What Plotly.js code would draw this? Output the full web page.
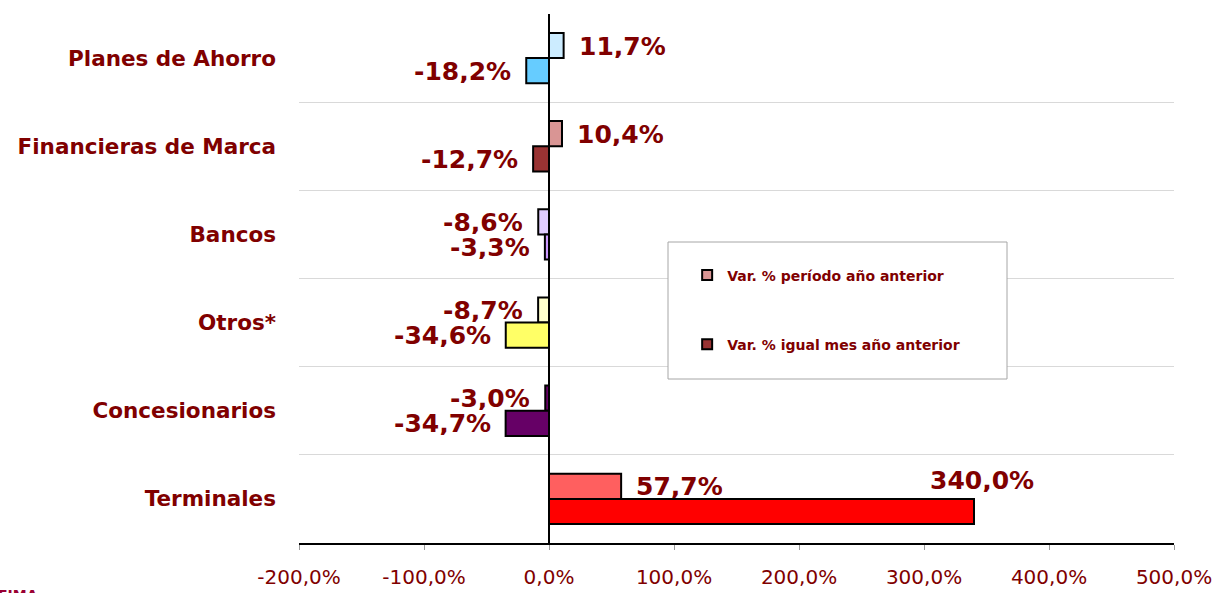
<!DOCTYPE html>
<html>
<head>
<meta charset="utf-8">
<script src="https://cdn.plot.ly/plotly-3.0.1.min.js"></script>
<style>
html,body{margin:0;padding:0;background:#fff;}
#chart{width:1213px;height:593px;}
</style>
</head>
<body>
<div id="chart"></div>
<script>
// ---- data ----
const categories = ['Planes de Ahorro', 'Financieras de Marca', 'Bancos', 'Otros*', 'Concesionarios', 'Terminales'];
const varPeriodo = [11.7, 10.4, -8.6, -8.7, -3.0, 57.7];
const varMes = [-18.2, -12.7, -3.3, -34.6, -34.7, 340.0];
const seriesNames = ['Var. % período año anterior', 'Var. % igual mes año anterior'];
const xTicks = [-200, -100, 0, 100, 200, 300, 400, 500];

// ---- styles ----
const coloresPeriodo = ['#CCECFF', '#D99594', '#E0CCFF', '#FFFFCC', '#660066', '#FF5F5F'];
const coloresMes = ['#66CCFF', '#993333', '#CC99FF', '#FFFF66', '#660066', '#FF0000'];
const legendColors = ['#D99594', '#993333'];
const dark = '#800000';
const FONT = 'DejaVu Sans, Verdana, sans-serif';

function fmt(v) { return v.toFixed(1).replace('.', ',') + '%'; }

const traces = [
  {type: 'bar', orientation: 'h', name: seriesNames[0], x: varPeriodo, y: categories,
   marker: {color: coloresPeriodo, line: {color: '#000', width: 2}}, showlegend: false, hoverinfo: 'x+y'},
  {type: 'bar', orientation: 'h', name: seriesNames[1], x: varMes, y: categories,
   marker: {color: coloresMes, line: {color: '#000', width: 2}}, showlegend: false, hoverinfo: 'x+y'},
  {type: 'scatter', mode: 'markers', name: seriesNames[0], x: [null], y: [null], legendgroup: 'a',
   marker: {symbol: 'square', size: 10, color: legendColors[0], line: {color: '#000', width: 2}}},
  {type: 'scatter', mode: 'markers', name: seriesNames[1], x: [null], y: [null], legendgroup: 'b',
   marker: {symbol: 'square', size: 10, color: legendColors[1], line: {color: '#000', width: 2}}}
];

const annotations = [];
[varPeriodo, varMes].forEach((arr, s) => {
  const barShift = s === 0 ? 12.5 : -12.5;
  arr.forEach((v, i) => {
    const a = {x: v, y: categories[i], xref: 'x', yref: 'y', text: fmt(v), showarrow: false,
      height: 24, valign: 'middle',
      font: {family: FONT, size: 25, color: dark, weight: 'bold'}, yshift: barShift};
    if (Math.abs(v) > 250) {
      a.xanchor = 'center'; a.xshift = 8; a.yshift = barShift + 31;
    } else if (v >= 0) {
      a.xanchor = 'left'; a.xshift = 13;
    } else {
      a.xanchor = 'right'; a.xshift = -13;
    }
    annotations.push(a);
  });
});
annotations.push({xref: 'paper', yref: 'paper', x: -299 / 875, y: -0.079, xanchor: 'left', yanchor: 'top',
  xshift: -4, text: 'FIMA', showarrow: false, font: {family: FONT, size: 14, color: '#990033', weight: 'bold'}});

const layout = {
  width: 1213, height: 593,
  margin: {l: 299, r: 39, t: 14, b: 50},
  paper_bgcolor: '#fff', plot_bgcolor: '#fff',
  barmode: 'group', bargap: 0.43, bargroupgap: 0,
  font: {family: FONT, color: dark},
  xaxis: {
    range: [-200, 500], tickmode: 'array', tickvals: xTicks, ticktext: xTicks.map(fmt),
    showgrid: false, zeroline: true, zerolinecolor: '#000', zerolinewidth: 1.5,
    showline: true, linecolor: '#000', linewidth: 1.5,
    ticks: 'outside', ticklen: 5, tickcolor: '#999', tickwidth: 1,
    tickfont: {family: FONT, size: 20, color: dark}, ticklabelstandoff: 10,
    fixedrange: true
  },
  yaxis: {
    type: 'category', categoryorder: 'array', categoryarray: categories,
    range: [5.5, -0.5], tickson: 'boundaries', showgrid: true, gridcolor: '#D9D9D9', gridwidth: 1,
    ticks: '', showline: false, zeroline: false,
    tickfont: {family: FONT, size: 21.5, color: dark, weight: 'bold'}, ticklabelstandoff: 22,
    fixedrange: true
  },
  showlegend: true,
  legend: {
    x: 0.4436, y: 0.536, xanchor: 'left', yanchor: 'top',
    bgcolor: 'rgba(0,0,0,0)', borderwidth: 0,
    traceorder: 'grouped', tracegroupgap: 48,
    font: {family: FONT, size: 14, color: dark, weight: 'bold'}
  },
  shapes: [{
    type: 'rect', xref: 'paper', yref: 'paper',
    x0: (668 - 299) / 875, x1: (1007 - 299) / 875, y0: (543 - 379) / 529, y1: (543 - 242) / 529,
    line: {color: '#A6A6A6', width: 1}, fillcolor: '#fff', layer: 'above'
  }],
  annotations: annotations
};

Plotly.newPlot('chart', traces, layout, {displayModeBar: false, staticPlot: true});
</script>
</body>
</html>
